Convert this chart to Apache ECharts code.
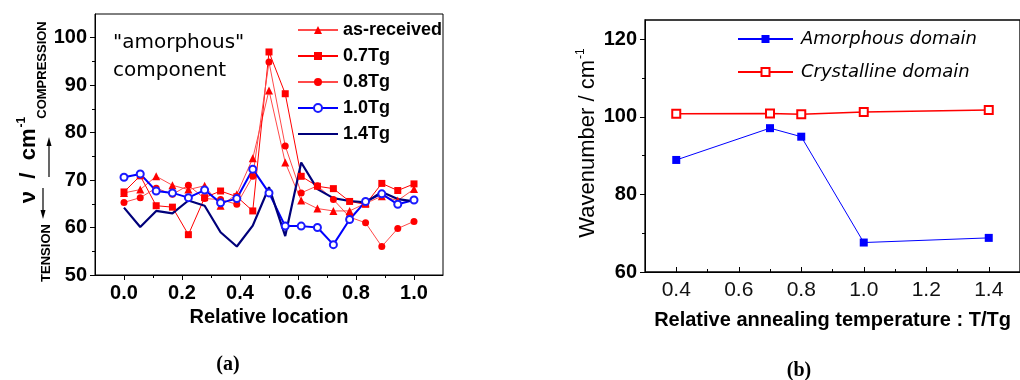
<!DOCTYPE html>
<html>
<head>
<meta charset="utf-8">
<script src="https://cdn.jsdelivr.net/npm/echarts@6/dist/echarts.min.js"></script>
<style>
  html, body { margin: 0; padding: 0; background: #fff; }
  #chart { width: 1020px; height: 380px; }
</style>
</head>
<body>
<div id="chart"></div>
<script>
// ---- (a) Raman shift of the amorphous component along the sample ----
const locations   = [0.000, 0.056, 0.111, 0.167, 0.222, 0.278, 0.333, 0.389, 0.444, 0.500,
                     0.556, 0.611, 0.667, 0.722, 0.778, 0.833, 0.889, 0.944, 1.000];
const asReceived  = [67.3, 68.0, 70.8, 68.9, 68.0, 68.8, 64.6, 67.0, 74.6, 88.9,
                     73.7, 65.7, 64.0, 63.5, 63.5, 65.1, 66.6, 65.7, 68.1];
const tg07        = [67.5, 70.9, 64.6, 64.3, 58.5, 66.3, 67.7, 66.5, 63.5, 97.0,
                     88.2, 70.8, 68.7, 68.2, 65.5, 64.9, 69.3, 67.8, 69.2];
const tg08        = [65.3, 66.3, 68.3, 67.0, 68.9, 66.1, 65.9, 64.9, 70.8, 94.9,
                     77.2, 67.3, 68.8, 65.9, 62.2, 61.0, 56.0, 59.8, 61.3];
const tg10        = [70.6, 71.3, 67.7, 67.3, 66.3, 67.9, 65.2, 66.1, 72.3, 67.3,
                     60.3, 60.3, 60.0, 56.4, 61.7, 65.5, 67.1, 64.9, 65.8];
const tg14        = [64.2, 60.1, 63.5, 63.0, 65.7, 64.6, 59.0, 56.0, 60.4, 68.5,
                     58.2, 73.7, 68.1, 66.2, 65.6, 65.3, 67.5, 66.0, 65.5];
const seriesNamesA = ['as-received', '0.7Tg', '0.8Tg', '1.0Tg', '1.4Tg'];
const xTicksA      = [0.0, 0.2, 0.4, 0.6, 0.8, 1.0];
const xMinorA      = [0.1, 0.3, 0.5, 0.7, 0.9];
const yTicksA      = [50, 60, 70, 80, 90, 100];
const yMinorA      = [55, 65, 75, 85, 95];

// ---- (b) peak position versus annealing temperature ----
const annealTemps   = [0.4, 0.7, 0.8, 1.0, 1.4];
const amorphousPeak = [88.9, 97.1, 94.9, 67.6, 68.8];
const crystalPeak   = [100.8, 100.9, 100.7, 101.3, 101.8];
const seriesNamesB  = ['Amorphous domain', 'Crystalline domain'];
const xTicksB       = [0.4, 0.6, 0.8, 1.0, 1.2, 1.4];
const xMinorB       = [0.5, 0.7, 0.9, 1.1, 1.3];
const yTicksB       = [60, 80, 100, 120];
const yMinorB       = [70, 90, 110];

const pairs = (xs, ys) => xs.map((x, i) => [x, ys[i]]);

const SANS = '"Liberation Sans", Arial, sans-serif';
const HAND = '"DejaVu Sans", sans-serif';
const SERIF = '"Liberation Serif", "Times New Roman", serif';

function mainX(grid, min, max, ticks, fmt, labelStyle, tickInside, name, nameGap, nameStyle) {
  return {
    type: 'value', gridIndex: grid, min: min, max: max, position: 'bottom',
    axisLine: { onZero: false, lineStyle: { color: '#000', width: 1 } },
    axisTick: { customValues: ticks, inside: tickInside, length: 5, lineStyle: { color: '#000' } },
    axisLabel: Object.assign({ customValues: ticks, formatter: fmt, color: '#000', margin: 8 }, labelStyle),
    splitLine: { show: false },
    name: name, nameLocation: 'middle', nameGap: nameGap,
    nameTextStyle: nameStyle
  };
}
function minorX(grid, min, max, ticks, inside) {
  return {
    type: 'value', gridIndex: grid, min: min, max: max, position: 'bottom',
    axisLine: { show: false, onZero: false },
    axisTick: { customValues: ticks, inside: inside, length: 3, lineStyle: { color: '#000' } },
    axisLabel: { show: false }, splitLine: { show: false }
  };
}
function mainY(grid, min, max, ticks, labelStyle) {
  return {
    type: 'value', gridIndex: grid, min: min, max: max, position: 'left',
    axisLine: { onZero: false, lineStyle: { color: '#000', width: 1 } },
    axisTick: { customValues: ticks, inside: false, length: 5, lineStyle: { color: '#000' } },
    axisLabel: Object.assign({ customValues: ticks, color: '#000', margin: 8 }, labelStyle),
    splitLine: { show: false }
  };
}
function minorY(grid, min, max, ticks) {
  return {
    type: 'value', gridIndex: grid, min: min, max: max, position: 'left',
    axisLine: { show: false, onZero: false },
    axisTick: { customValues: ticks, inside: false, length: 3, lineStyle: { color: '#000' } },
    axisLabel: { show: false }, splitLine: { show: false }
  };
}

const boldLabel = { fontFamily: SANS, fontWeight: 'bold', fontSize: 20 };
const clear = 'rgba(0,0,0,0)';

const option = {
  animation: false,
  backgroundColor: '#fff',
  grid: [
    { left: 95, top: 14, width: 348, height: 261, show: true, borderColor: '#000', borderWidth: 1, containLabel: false },
    { left: 645, top: 20, width: 380, height: 252, show: true, borderColor: '#000', borderWidth: 1.3, containLabel: false }
  ],
  xAxis: [
    mainX(0, -0.1, 1.1, xTicksA, v => v.toFixed(1), boldLabel, false,
          'Relative location', 31, { fontFamily: SANS, fontWeight: 'bold', fontSize: 20, color: '#000' }),
    minorX(0, -0.1, 1.1, xMinorA, false),
    mainX(1, 0.3, 1.5, xTicksB, v => v.toFixed(1), { fontFamily: SANS, fontSize: 21, color: '#111' }, true,
          'Relative annealing temperature : T/Tg', 38, { fontFamily: SANS, fontWeight: 'bold', fontSize: 20, color: '#000' }),
    minorX(1, 0.3, 1.5, xMinorB, true)
  ],
  yAxis: [
    mainY(0, 50, 105, yTicksA, boldLabel),
    minorY(0, 50, 105, yMinorA),
    mainY(1, 60, 125, yTicksB, { fontFamily: SANS, fontWeight: 'bold', fontSize: 20 }),
    minorY(1, 60, 125, yMinorB)
  ],
  legend: [
    {
      // the 1.4Tg entry is a plain line: its marker is made invisible
      data: seriesNamesA.map((n, i) => i === 4
        ? { name: n, itemStyle: { color: clear, borderColor: clear, borderWidth: 0 } } : n),
      orient: 'vertical', left: 292, top: 16,
      itemWidth: 40, itemHeight: 10, itemGap: 8,
      textStyle: { fontFamily: SANS, fontWeight: 'bold', fontSize: 18, color: '#000' }
    },
    {
      data: seriesNamesB, orient: 'vertical', left: 732, top: 25,
      itemWidth: 55, itemHeight: 10, itemGap: 15,
      textStyle: { fontFamily: HAND, fontStyle: 'italic', fontSize: 18, color: '#000', padding: [0, 0, 0, 3] }
    }
  ],
  series: [
    { name: seriesNamesA[0], type: 'line', xAxisIndex: 0, yAxisIndex: 0, data: pairs(locations, asReceived),
      symbol: 'triangle', symbolSize: 8, itemStyle: { color: '#ff0000' },
      lineStyle: { color: '#ff4a4a', width: 1 } },
    { name: seriesNamesA[1], type: 'line', xAxisIndex: 0, yAxisIndex: 0, data: pairs(locations, tg07),
      symbol: 'rect', symbolSize: 7, itemStyle: { color: '#ff0000' },
      lineStyle: { color: '#ff0000', width: 1 } },
    { name: seriesNamesA[2], type: 'line', xAxisIndex: 0, yAxisIndex: 0, data: pairs(locations, tg08),
      symbol: 'circle', symbolSize: 7, itemStyle: { color: '#ff0000' },
      lineStyle: { color: '#ff4a4a', width: 1 } },
    { name: seriesNamesA[3], type: 'line', xAxisIndex: 0, yAxisIndex: 0, data: pairs(locations, tg10),
      symbol: 'emptyCircle', symbolSize: 7, itemStyle: { color: '#1a1aff', borderWidth: 1 },
      lineStyle: { color: '#0000ff', width: 2 } },
    { name: seriesNamesA[4], type: 'line', xAxisIndex: 0, yAxisIndex: 0, data: pairs(locations, tg14),
      symbol: 'none', itemStyle: { color: '#00007a' },
      lineStyle: { color: '#00007a', width: 2.2 } },

    { name: seriesNamesB[0], type: 'line', xAxisIndex: 2, yAxisIndex: 2, data: pairs(annealTemps, amorphousPeak),
      symbol: 'rect', symbolSize: 8, itemStyle: { color: '#0000ff' },
      lineStyle: { color: '#0000ff', width: 1 } },
    { name: seriesNamesB[1], type: 'line', xAxisIndex: 2, yAxisIndex: 2, data: pairs(annealTemps, crystalPeak),
      symbol: 'emptyRect', symbolSize: 8, itemStyle: { color: '#ff0000', borderWidth: 1.2 },
      lineStyle: { color: '#ff0000', width: 1.5 } }
  ],
  graphic: [
    // inline annotation in panel (a)
    { type: 'text', left: 113, top: 33, style: { text: '"amorphous"', font: '20px ' + HAND, fill: '#000' } },
    { type: 'text', left: 113, top: 61, style: { text: 'component', font: '20px ' + HAND, fill: '#000' } },
    // y-axis title of panel (a)
    { type: 'text', x: 29, y: 160, rotation: Math.PI / 2,
      style: { text: '{m|ν  /  cm}{s|-1}', align: 'center', verticalAlign: 'middle',
        rich: { m: { fontFamily: SANS, fontWeight: 'bold', fontSize: 22, fill: '#000' },
                s: { fontFamily: SANS, fontWeight: 'bold', fontSize: 12, fill: '#000', padding: [0, 0, 14, 1] } } } },
    { type: 'text', x: 42.5, y: 70, rotation: Math.PI / 2,
      style: { text: 'COMPRESSION', align: 'center', verticalAlign: 'middle',
        font: 'bold 13px ' + SANS, fill: '#000' } },
    { type: 'text', x: 46, y: 253, rotation: Math.PI / 2,
      style: { text: 'TENSION', align: 'center', verticalAlign: 'middle',
        font: 'bold 13px ' + SANS, fill: '#000' } },
    { type: 'line', shape: { x1: 49, y1: 177, x2: 49, y2: 143 }, style: { stroke: '#000', lineWidth: 1.2 } },
    { type: 'polygon', shape: { points: [[49, 137], [46.5, 146], [51.5, 146]] }, style: { fill: '#000' } },
    { type: 'line', shape: { x1: 43, y1: 188, x2: 43, y2: 212 }, style: { stroke: '#000', lineWidth: 1.2 } },
    { type: 'polygon', shape: { points: [[43, 219], [40.5, 210], [45.5, 210]] }, style: { fill: '#000' } },
    // y-axis title of panel (b)
    { type: 'text', x: 588, y: 143, rotation: Math.PI / 2,
      style: { text: '{m|Wavenumber / cm}{s|-1}', align: 'center', verticalAlign: 'middle',
        rich: { m: { fontFamily: SANS, fontSize: 22, fill: '#000' },
                s: { fontFamily: SANS, fontSize: 12, fill: '#000', padding: [0, 0, 14, 1] } } } },
    // panel captions
    { type: 'text', x: 228, y: 365, style: { text: '(a)', align: 'center', verticalAlign: 'middle',
        font: 'bold 20px ' + SERIF, fill: '#000' } },
    { type: 'text', x: 799, y: 371, style: { text: '(b)', align: 'center', verticalAlign: 'middle',
        font: 'bold 20px ' + SERIF, fill: '#000' } }
  ]
};

const chart = echarts.init(document.getElementById('chart'), null, { renderer: 'canvas' });
chart.setOption(option);
</script>
</body>
</html>
